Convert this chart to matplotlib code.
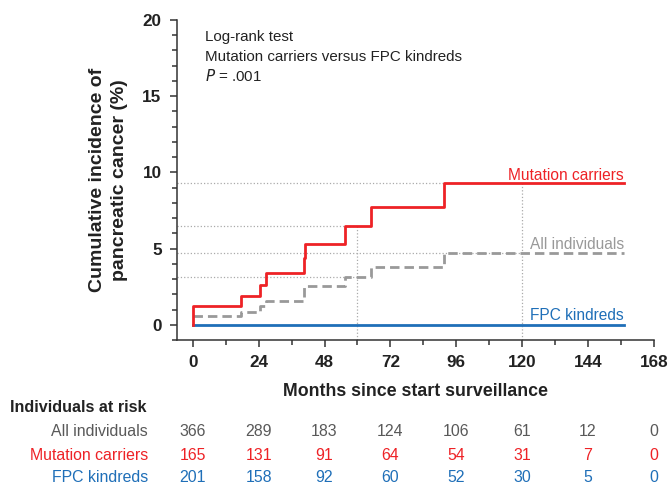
import matplotlib
matplotlib.use("Agg")
import matplotlib.pyplot as plt
from matplotlib.ticker import MultipleLocator

plt.rcParams['font.family'] = ['Liberation Sans', 'DejaVu Sans']

# Data
mut_t = [0, 0, 17.4, 24.6, 26.8, 40.6, 41.0, 55.6, 64.8, 91.4, 157]
mut_y = [0, 1.2, 1.9, 2.6, 3.4, 4.4, 5.3, 6.5, 7.7, 9.3, 9.3]
all_t = [0, 17.4, 24.6, 26.8, 40.6, 55.6, 64.8, 91.4, 157]
all_y = [0.55, 0.84, 1.2, 1.55, 2.55, 3.15, 3.8, 4.68, 4.68]
fpc_t = [0, 157]
fpc_y = [0, 0]

risk_times = [0, 24, 48, 72, 96, 120, 144, 168]
risk_labels = ["All individuals", "Mutation carriers", "FPC kindreds"]
risk_all = [366, 289, 183, 124, 106, 61, 12, 0]
risk_mut = [165, 131, 91, 64, 54, 31, 7, 0]
risk_fpc = [201, 158, 92, 60, 52, 30, 5, 0]

RED = "#ee2226"
GRAY = "#999999"
BLUE = "#1f6fb8"
TGRAY = "#595959"
DOT = "#aaaaaa"

fig = plt.figure(figsize=(6.7, 4.83), dpi=100)
ax = fig.add_axes([0.264, 0.296, 0.712, 0.663])
ax.set_xlim(-5.8, 168)
ax.set_ylim(-1, 20)

# reference dotted lines
ax.plot([-5.8, 91.4], [9.3, 9.3], ls=':', color=DOT, lw=0.9, zorder=1)
ax.plot([-5.8, 60], [6.5, 6.5], ls=':', color=DOT, lw=0.9, zorder=1)
ax.plot([-5.8, 120], [4.68, 4.68], ls=':', color=DOT, lw=0.9, zorder=1)
ax.plot([-5.8, 60], [3.15, 3.15], ls=':', color=DOT, lw=0.9, zorder=1)
ax.plot([60, 60], [-1, 6.5], ls=':', color=DOT, lw=0.9, zorder=1)
ax.plot([120, 120], [-1, 9.3], ls=':', color=DOT, lw=0.9, zorder=1)

ax.step(all_t, all_y, where='post', color=GRAY, lw=2.0, dashes=(3.4, 1.8), zorder=2)
ax.step(fpc_t, fpc_y, where='post', color=BLUE, lw=2.0, zorder=3)
ax.step(mut_t, mut_y, where='post', color=RED, lw=2.0, zorder=4)

ax.text(157, 9.33, "Mutation carriers", color=RED, ha='right', va='bottom', fontsize=11.2)
ax.text(157, 4.78, "All individuals", color=GRAY, ha='right', va='bottom', fontsize=11.2)
ax.text(157, 0.13, "FPC kindreds", color=BLUE, ha='right', va='bottom', fontsize=11.2)

ax.text(4.5, 18.85, "Log-rank test", fontsize=10.9, color="#222222", va='center')
ax.text(4.5, 17.55, "Mutation carriers versus FPC kindreds", fontsize=10.9, color="#222222", va='center')
ax.text(4.5, 16.3, r"$\it{P}$ = .001", fontsize=10.9, color="#222222", va='center')

for s in ['top', 'right']:
    ax.spines[s].set_visible(False)
for s in ['left', 'bottom']:
    ax.spines[s].set_color('#333333')
    ax.spines[s].set_linewidth(1.1)

ax.set_xticks(risk_times)
ax.xaxis.set_minor_locator(MultipleLocator(12))
ax.set_yticks([0, 5, 10, 15, 20])
ax.yaxis.set_minor_locator(MultipleLocator(1))
ax.tick_params(which='major', length=5, width=1.1, color='#333333', labelsize=12.3, pad=6)
ax.tick_params(which='minor', length=3.5, width=1.1, color='#333333')
for lab in ax.get_xticklabels() + ax.get_yticklabels():
    lab.set_fontweight('bold')
    lab.set_color('#222222')

ax.set_xlabel("Months since start surveillance", fontsize=12.8, fontweight='bold', color='#222222', labelpad=9)
ax.set_ylabel("Cumulative incidence of\npancreatic cancer (%)", fontsize=14, fontweight='bold',
              color='#222222', labelpad=10, linespacing=1.4)

# risk table
fig.text(10/670, 1 - 407/483, "Individuals at risk", fontsize=11.6, fontweight='bold',
         color='#222222', va='center', ha='left')
row_y = [432, 455, 477]
row_colors = [TGRAY, RED, BLUE]
for lbl, vals, yy, c in zip(risk_labels, [risk_all, risk_mut, risk_fpc], row_y, row_colors):
    yf = 1 - yy / 483
    fig.text(148/670, yf, lbl, fontsize=11.4, color=c, ha='right', va='center')
    for t, v in zip(risk_times, vals):
        xd = ax.transData.transform((t, 0))[0]
        xf = fig.transFigure.inverted().transform((xd, 0))[0]
        fig.text(xf, yf, str(v), fontsize=11.4, color=c, ha='center', va='center')

fig.savefig("out.png", dpi=100)
